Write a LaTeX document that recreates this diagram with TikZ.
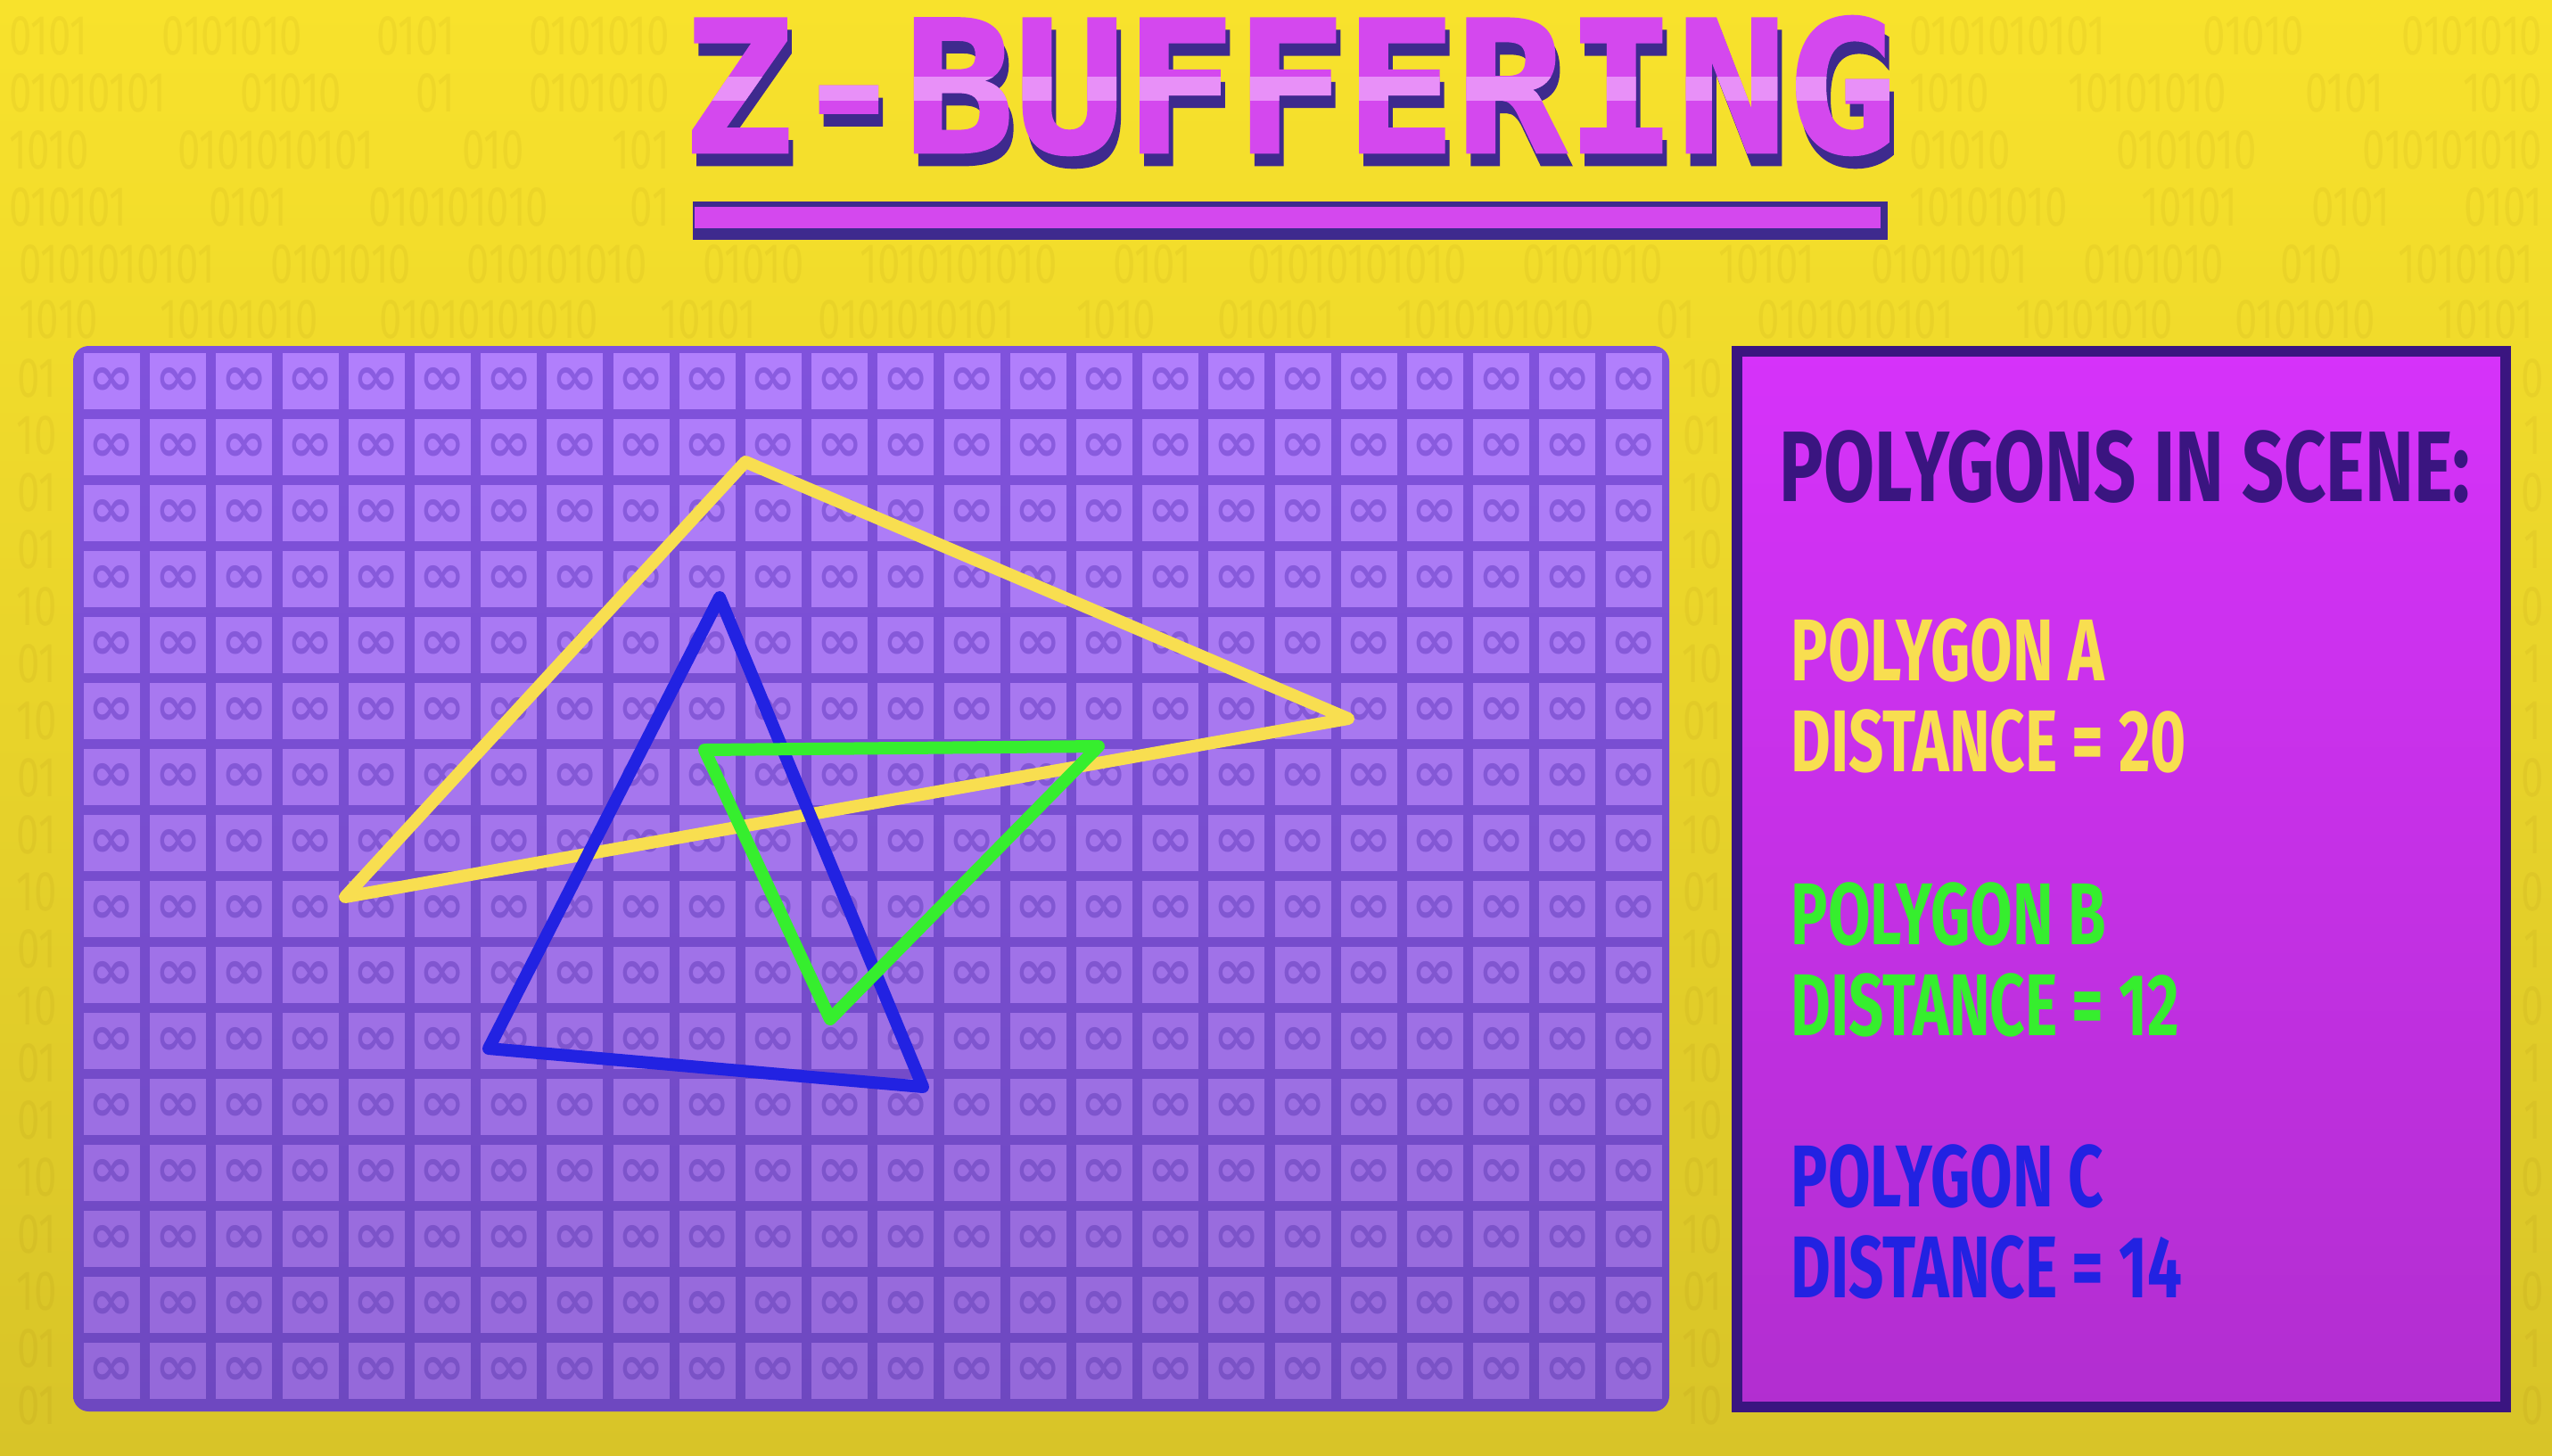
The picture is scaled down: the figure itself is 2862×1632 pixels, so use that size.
\documentclass[tikz,border=0pt]{standalone}
\usepackage{fontspec}
\usetikzlibrary{positioning}
\newfontfamily\panelfont{Fira Sans}[FakeStretch=0.7]
\newfontfamily\headfont{Fira Sans}[FakeStretch=0.735]
\newfontfamily\titlefont{DejaVu Sans Mono}[FakeBold=1.5]
\newfontfamily\bitsfont{Fira Sans}[FakeStretch=0.72]
\newfontfamily\symfont{DejaVu Sans}
\definecolor{BgTop}{HTML}{F8E22C}
\definecolor{BgMid}{HTML}{FEE81E}
\definecolor{BgBot}{HTML}{D8C428}
\definecolor{GridTop}{HTML}{8052DC}
\definecolor{GridBot}{HTML}{6E48C0}
\definecolor{CellTop}{HTML}{B17FFC}
\definecolor{CellBot}{HTML}{9569DA}
\definecolor{InfTop}{HTML}{8A5CE0}
\definecolor{InfBot}{HTML}{7A52C6}
\definecolor{PanelTop}{HTML}{D632FA}
\definecolor{PanelBot}{HTML}{B22ED0}
\definecolor{PanelEdge}{HTML}{3A1580}
\definecolor{TitleMag}{HTML}{D448EE}
\definecolor{TitlePink}{HTML}{E890F8}
\definecolor{TitleShadow}{HTML}{3E2A8E}
\definecolor{PolyA}{HTML}{F8DE50}
\definecolor{PolyB}{HTML}{36EE2E}
\definecolor{PolyC}{HTML}{2222E2}
% binary filler, stretched to a given width
\newcommand{\bitrow}[2]{\makebox[#1][s]{#2}}
\newcommand{\bitsA}{0101010101 0101010 010101010 01010 1010101010 0101 01010101010 0101010 10101 01010101 0101010 010 1010101}
\newcommand{\bitsB}{1010 10101010 01010101010 10101 0101010101 1010 010101 1010101010 01 0101010101 10101010 0101010 10101}

\begin{document}
\begin{tikzpicture}[x=0.1mm,y=-0.1mm,
    bits/.style={inner sep=0,text=black!60!orange,text opacity=0.05,align=center,
      font=\bitsfont\fontsize{18}{18.21}\selectfont},
    infsym/.style={inner sep=0,font=\symfont\bfseries\fontsize{17.5}{18}\selectfont},
    ztitle/.style={inner sep=0,font=\titlefont\bfseries\fontsize{58.5}{60}\selectfont},
    heading/.style={anchor=base west,inner sep=0,text=PanelEdge,
      font=\headfont\bfseries\fontsize{32}{34}\selectfont},
    item/.style={anchor=base west,inner sep=0,
      font=\panelfont\bfseries\fontsize{28}{30}\selectfont},
    tri/.style={line width=1.4mm,line join=round}]
  \useasboundingbox (0,0) rectangle (2862,1632);
  % background with binary rows
  \shade[top color=BgTop,middle color=BgMid,bottom color=BgBot]
    (0,0) rectangle (2862,1632);
  \foreach \l/\rr [count=\r from 0] in {
      {0101 0101010 0101 0101010}/{0101010101 01010 0101010},
      {01010101 01010 01 0101010}/{1010 10101010 0101 1010},
      {1010 0101010101 010 101}/{01010 0101010 010101010},
      {010101 0101 010101010 01}/{10101010 10101 0101 0101}}{
    \node[bits,anchor=west] (bitsl\r) at (10,40+64*\r) {\bitrow{74mm}{\l}};
    \node[bits,anchor=east] (bitsr\r) at (2852,40+64*\r) {\bitrow{71mm}{\rr}};
  }
  \node[bits] (bits4) at (1431,296) {\bitrow{282mm}{\bitsA}};
  \node[bits] (bits5) at (1431,358) {\bitrow{282mm}{\bitsB}};
  \node[bits] (stripl) at (41,1000)
    {01\\10\\01\\01\\10\\01\\10\\01\\01\\10\\01\\10\\01\\01\\10\\01\\10\\01\\01};
  \node[bits] (stripm) at (1909,1000)
    {10\\01\\10\\10\\01\\10\\01\\10\\10\\01\\10\\01\\10\\10\\01\\10\\01\\10\\10};
  \node[bits] (stripr) at (2840,1000)
    {0\\1\\0\\1\\0\\1\\1\\0\\1\\0\\1\\0\\1\\1\\0\\1\\0\\1\\0};

  % depth buffer grid, every cell at infinity
  \shade[top color=GridTop,bottom color=GridBot,rounded corners=5]
    (82,388) rectangle (1872,1583);
  \foreach \j in {0,...,15}{
    \pgfmathtruncatemacro\pct{100-100*\j/15}
    \colorlet{cellc}{CellTop!\pct!CellBot}
    \colorlet{infc}{InfTop!\pct!InfBot}
    \foreach \i in {0,...,23}{
      \fill[cellc] (94+74.2*\i,396+74*\j) rectangle ++(63,63);
      \node[infsym,text=infc] (cell-\i-\j) at (125.5+74.2*\i,427.5+74*\j) {∞};
    }
  }

  % panel
  \shade[top color=PanelTop,bottom color=PanelBot] (1948,394) rectangle (2810,1578);
  \draw[PanelEdge,line width=1.2mm] (1948,394) rectangle (2810,1578);

  % title
  \node[ztitle,text=TitleShadow] (titleshadow) at (1452,110) {Z-BUFFERING};
  \node[ztitle,text=TitleMag] (title) at (1447,96) {Z-BUFFERING};
  \begin{scope}
    \clip (700,86) rectangle (2200,112);
    \node[ztitle,text=TitlePink] (titleglow) at (1447,96) {Z-BUFFERING};
  \end{scope}
  \fill[TitleShadow] (777,226) rectangle (2117,269);
  \fill[TitleMag] (779,232) rectangle (2109,256);

  % polygons
  \coordinate (a1) at (836,518);
  \coordinate (a2) at (1512,806);
  \coordinate (a3) at (387,1006);
  \coordinate (c1) at (807,670);
  \coordinate (c2) at (1035,1219);
  \coordinate (c3) at (548,1176);
  \coordinate (b1) at (790,841);
  \coordinate (b2) at (1232,837);
  \coordinate (b3) at (931,1143);
  \draw[tri,PolyA] (a1) -- (a2) -- (a3) -- cycle;
  \draw[tri,PolyC] (c1) -- (c2) -- (c3) -- cycle;
  \draw[tri,PolyB] (b1) -- (b2) -- (b3) -- cycle;

  % legend
  \node[heading] (scene) at (1995,562) {POLYGONS IN SCENE:};
  \node[item,text=PolyA] (namea) at (2008,763) {POLYGON A};
  \node[item,text=PolyA] (dista) at (2008,865) {DISTANCE = 20};
  \node[item,text=PolyB] (nameb) at (2008,1059) {POLYGON B};
  \node[item,text=PolyB] (distb) at (2008,1161) {DISTANCE = 12};
  \node[item,text=PolyC] (namec) at (2008,1353) {POLYGON C};
  \node[item,text=PolyC] (distc) at (2008,1455) {DISTANCE = 14};
\end{tikzpicture}
\end{document}
